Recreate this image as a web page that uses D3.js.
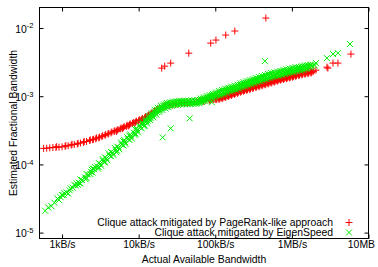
<!DOCTYPE html>
<html>
<head>
<meta charset="utf-8">
<script src="https://cdn.jsdelivr.net/npm/d3@7"></script>
<style>
body{margin:0;background:#fff}
svg{display:block;font-family:"Liberation Sans",Arial,Helvetica,sans-serif}
</style>
</head>
<body>
<svg id="chart" width="378" height="267"></svg>
<script>
// axes
const xTicks = [1e3, 1e4, 1e5, 1e6, 1e7];
const xTickLabels = ['1kB/s', '10kB/s', '100kB/s', '1MB/s', '10MB'];
const yTicks = [1e-5, 1e-4, 1e-3, 1e-2];
const xTitle = 'Actual Available Bandwidth';
const yTitle = 'Estimated Fractional Bandwidth';
const seriesNames = ['Clique attack mitigated by PageRank-like approach', 'Clique attack mitigated by EigenSpeed'];

// [actual bandwidth B/s, estimated fraction]
const pagerankBand = [[575,1.72e-4],[631,1.73e-4],[692,1.75e-4],[759,1.77e-4],[832,1.78e-4],[850,1.82e-4],[912,1.79e-4],[1000,1.81e-4],[1096,1.85e-4],[1120,1.88e-4],[1202,1.88e-4],[1318,1.92e-4],[1350,1.97e-4],[1445,1.96e-4],[1585,2.00e-4],[1620,2.04e-4],[1738,2.06e-4],[1905,2.11e-4],[1950,2.16e-4],[2089,2.17e-4],[2291,2.24e-4],[2340,2.29e-4],[2512,2.30e-4],[2570,2.34e-4],[2754,2.37e-4],[2820,2.45e-4],[3020,2.45e-4],[3090,2.51e-4],[3311,2.56e-4],[3390,2.63e-4],[3631,2.67e-4],[3720,2.75e-4],[3981,2.79e-4],[4070,2.85e-4],[4365,2.90e-4],[4470,2.99e-4],[4786,3.03e-4],[4900,3.13e-4],[5248,3.16e-4],[5370,3.24e-4],[5130,3.05e-4],[5754,3.31e-4],[5890,3.43e-4],[6310,3.47e-4],[6460,3.59e-4],[6170,3.35e-4],[6918,3.63e-4],[7080,3.76e-4],[7586,3.80e-4],[7760,3.94e-4],[7410,3.67e-4],[8318,3.98e-4],[8510,4.12e-4],[9120,4.17e-4],[9330,4.32e-4],[8910,4.03e-4],[1.0e4,4.37e-4],[1.02e4,4.52e-4],[1.096e4,4.57e-4],[1.12e4,4.73e-4],[1.07e4,4.42e-4],[1.202e4,4.84e-4],[1.23e4,5.01e-4],[1.318e4,5.13e-4],[1.35e4,5.31e-4],[1.29e4,4.95e-4],[1.445e4,5.50e-4],[1.48e4,5.69e-4],[1.585e4,5.89e-4],[1.62e4,6.10e-4],[1.738e4,6.31e-4],[1.78e4,6.53e-4],[1.905e4,6.61e-4],[2.089e4,6.92e-4],[2.14e4,7.16e-4],[2.291e4,7.16e-4],[2.512e4,7.24e-4],[2.754e4,7.41e-4],[3.020e4,7.59e-4],[3.311e4,7.71e-4],[3.631e4,7.80e-4],[3.981e4,7.94e-4],[4.365e4,8.04e-4],[4.786e4,8.17e-4],[5.248e4,8.32e-4],[5.754e4,8.45e-4],[6.310e4,8.59e-4],[6.918e4,8.71e-4],[7.08e4,8.41e-4],[7.586e4,8.81e-4],[8.318e4,8.95e-4],[8.51e4,8.61e-4],[9.120e4,9.08e-4],[1.0e5,9.20e-4],[1.02e5,8.91e-4],[1.096e5,9.33e-4],[1.12e5,9.02e-4],[1.202e5,9.55e-4],[1.23e5,9.23e-4],[1.18e5,9.89e-4],[1.318e5,9.89e-4],[1.35e5,9.55e-4],[1.445e5,1.023e-3],[1.48e5,9.89e-4],[1.41e5,1.059e-3],[1.585e5,1.062e-3],[1.62e5,1.023e-3],[1.738e5,1.10e-3],[1.78e5,1.064e-3],[1.70e5,1.14e-3],[1.905e5,1.143e-3],[1.95e5,1.104e-3],[2.089e5,1.186e-3],[2.14e5,1.146e-3],[2.04e5,1.227e-3],[2.291e5,1.225e-3],[2.34e5,1.183e-3],[2.512e5,1.262e-3],[2.57e5,1.219e-3],[2.45e5,1.306e-3],[2.754e5,1.303e-3],[2.82e5,1.259e-3],[3.020e5,1.343e-3],[3.09e5,1.297e-3],[2.95e5,1.390e-3],[3.311e5,1.387e-3],[3.39e5,1.340e-3],[3.631e5,1.429e-3],[3.72e5,1.380e-3],[3.55e5,1.479e-3],[3.981e5,1.472e-3],[4.07e5,1.422e-3],[4.365e5,1.521e-3],[4.47e5,1.469e-3],[4.27e5,1.574e-3],[4.786e5,1.570e-3],[4.90e5,1.517e-3],[5.248e5,1.618e-3],[5.37e5,1.563e-3],[5.13e5,1.675e-3],[5.754e5,1.671e-3],[5.89e5,1.614e-3],[6.310e5,1.722e-3],[6.46e5,1.663e-3],[6.17e5,1.782e-3],[6.918e5,1.778e-3],[7.08e5,1.718e-3],[7.586e5,1.824e-3],[7.76e5,1.762e-3],[7.41e5,1.888e-3],[8.318e5,1.871e-3],[8.51e5,1.807e-3],[9.120e5,1.923e-3],[9.33e5,1.858e-3],[8.91e5,1.991e-3],[1.0e6,1.972e-3],[1.02e6,1.905e-3],[1.096e6,2.028e-3],[1.12e6,1.959e-3],[1.07e6,2.099e-3],[1.202e6,2.080e-3],[1.23e6,2.009e-3],[1.318e6,2.133e-3],[1.35e6,2.061e-3],[1.29e6,2.208e-3],[1.445e6,2.178e-3],[1.48e6,2.104e-3],[1.585e6,2.223e-3],[1.62e6,2.148e-3],[1.738e6,2.270e-3],[1.78e6,2.193e-3],[1.905e6,2.312e-3]];
const pagerankBandFill = [[8.710e4,9.20e-4],[8.710e4,8.79e-4],[9.550e4,9.33e-4],[9.550e4,8.91e-4],[1.047e5,9.46e-4],[1.047e5,9.04e-4],[1.148e5,9.59e-4],[1.148e5,9.16e-4],[1.259e5,9.93e-4],[1.259e5,9.48e-4],[1.380e5,1.030e-3],[1.380e5,9.84e-4],[1.514e5,1.067e-3],[1.514e5,1.019e-3],[1.660e5,1.107e-3],[1.660e5,1.057e-3],[1.820e5,1.148e-3],[1.820e5,1.096e-3],[1.995e5,1.191e-3],[1.995e5,1.138e-3],[2.188e5,1.233e-3],[2.188e5,1.178e-3],[2.399e5,1.271e-3],[2.399e5,1.213e-3],[2.630e5,1.312e-3],[2.630e5,1.253e-3],[2.884e5,1.352e-3],[2.884e5,1.291e-3],[3.162e5,1.396e-3],[3.162e5,1.334e-3],[3.467e5,1.439e-3],[3.467e5,1.374e-3],[3.802e5,1.486e-3],[3.802e5,1.419e-3],[4.169e5,1.531e-3],[4.169e5,1.462e-3],[4.571e5,1.581e-3],[4.571e5,1.510e-3],[5.012e5,1.629e-3],[5.012e5,1.556e-3],[5.495e5,1.683e-3],[5.495e5,1.607e-3],[6.026e5,1.734e-3],[6.026e5,1.656e-3],[6.607e5,1.786e-3],[6.607e5,1.706e-3],[7.244e5,1.841e-3],[7.244e5,1.758e-3],[7.943e5,1.892e-3],[7.943e5,1.807e-3],[8.710e5,1.941e-3],[8.710e5,1.854e-3],[9.550e5,1.995e-3],[9.550e5,1.905e-3],[1.047e6,2.046e-3],[1.047e6,1.954e-3],[1.148e6,2.099e-3],[1.148e6,2.004e-3],[1.259e6,2.153e-3],[1.259e6,2.056e-3],[1.380e6,2.203e-3],[1.380e6,2.104e-3],[1.514e6,2.249e-3],[1.514e6,2.148e-3],[1.660e6,2.296e-3],[1.660e6,2.193e-3],[1.820e6,2.344e-3],[1.820e6,2.239e-3]];
const pagerankOutliers = [[2.0e4,2.58e-3],[2.19e4,2.76e-3],[2.62e4,3.06e-3],[4.51e4,4.28e-3],[8.73e4,6.01e-3],[1.02e5,6.66e-3],[1.37e5,7.89e-3],[1.80e5,9.04e-3],[4.57e5,1.40e-2],[2.06e6,2.41e-3],[2.87e6,2.67e-3],[2.95e6,2.58e-3],[3.44e6,3.06e-3],[3.99e6,3.06e-3],[5.90e6,4.15e-3]];

const eigenBand = [[603,2.09e-5],[661,2.34e-5],[724,2.45e-5],[794,2.75e-5],[871,3.16e-5],[912,3.02e-5],[955,3.31e-5],[1047,3.55e-5],[1070,3.80e-5],[1148,3.89e-5],[1259,4.17e-5],[1290,4.47e-5],[1380,4.57e-5],[1514,4.90e-5],[1550,5.25e-5],[1660,5.37e-5],[1620,5.01e-5],[1820,5.89e-5],[1995,6.46e-5],[2040,6.03e-5],[2188,7.08e-5],[2399,7.76e-5],[2450,8.32e-5],[2340,7.24e-5],[2630,8.51e-5],[2690,9.12e-5],[2884,9.33e-5],[2950,8.71e-5],[3162,1.02e-4],[3240,9.55e-5],[3467,1.12e-4],[3550,1.07e-4],[3390,1.20e-4],[3802,1.23e-4],[3890,1.15e-4],[4169,1.35e-4],[4070,1.45e-4],[4571,1.48e-4],[4680,1.38e-4],[5012,1.62e-4],[4900,1.74e-4],[5130,1.51e-4],[5495,1.78e-4],[5620,1.66e-4],[6026,1.95e-4],[5890,2.09e-4],[6607,2.14e-4],[6760,2.00e-4],[6460,2.29e-4],[7244,2.34e-4],[7080,2.51e-4],[7943,2.57e-4],[8130,2.40e-4],[7760,2.75e-4],[8710,2.88e-4],[8910,2.69e-4],[9550,3.16e-4],[9330,3.39e-4],[9770,2.95e-4],[1.047e4,3.47e-4],[1.02e4,3.72e-4],[1.148e4,3.89e-4],[1.175e4,3.63e-4],[1.12e4,4.17e-4],[1.259e4,4.27e-4],[1.23e4,4.57e-4],[1.29e4,3.98e-4],[1.380e4,4.79e-4],[1.35e4,5.13e-4],[1.41e4,4.47e-4],[1.514e4,5.25e-4],[1.48e4,5.62e-4],[1.55e4,4.90e-4],[1.660e4,5.80e-4],[1.62e4,6.31e-4],[1.70e4,5.37e-4],[1.820e4,6.31e-4],[1.78e4,6.76e-4],[1.86e4,5.89e-4],[1.995e4,6.76e-4],[1.95e4,7.24e-4],[2.04e4,6.31e-4],[2.188e4,7.16e-4],[2.14e4,7.59e-4],[2.24e4,6.61e-4],[2.399e4,7.50e-4],[2.34e4,7.94e-4],[2.45e4,6.92e-4],[2.630e4,7.67e-4],[2.57e4,8.13e-4],[2.69e4,7.24e-4],[2.884e4,7.85e-4],[2.82e4,8.32e-4],[2.95e4,7.41e-4],[3.162e4,7.94e-4],[3.09e4,8.41e-4],[3.24e4,7.50e-4],[3.467e4,8.04e-4],[3.39e4,8.51e-4],[3.55e4,7.59e-4],[3.802e4,8.07e-4],[3.72e4,8.55e-4],[3.89e4,7.62e-4],[4.169e4,8.13e-4],[4.07e4,8.61e-4],[4.27e4,7.67e-4],[4.571e4,8.13e-4],[4.47e4,8.59e-4],[4.68e4,7.69e-4],[5.012e4,8.17e-4],[4.90e4,8.65e-4],[5.13e4,7.76e-4],[5.495e4,8.18e-4],[5.37e4,8.71e-4],[5.62e4,7.76e-4],[6.026e4,8.32e-4],[5.89e4,8.81e-4],[6.17e4,7.85e-4],[6.607e4,8.71e-4],[6.46e4,9.23e-4],[6.76e4,8.22e-4],[7.244e4,9.02e-4],[7.08e4,9.55e-4],[7.41e4,8.51e-4],[7.943e4,9.44e-4],[7.76e4,1.0e-3],[8.13e4,8.91e-4],[8.710e4,9.77e-4],[8.51e4,1.035e-3],[8.91e4,9.23e-4],[9.550e4,1.023e-3],[9.33e4,1.084e-3],[9.77e4,9.66e-4],[1.047e5,1.072e-3],[1.02e5,1.135e-3],[1.07e5,1.012e-3],[1.148e5,1.109e-3],[1.12e5,1.189e-3],[1.175e5,1.035e-3],[1.259e5,1.148e-3],[1.23e5,1.230e-3],[1.29e5,1.072e-3],[1.380e5,1.202e-3],[1.35e5,1.288e-3],[1.41e5,1.122e-3],[1.514e5,1.259e-3],[1.48e5,1.334e-3],[1.55e5,1.175e-3],[1.660e5,1.288e-3],[1.62e5,1.380e-3],[1.70e5,1.202e-3],[1.820e5,1.334e-3],[1.78e5,1.429e-3],[1.86e5,1.245e-3],[1.995e5,1.380e-3],[1.95e5,1.479e-3],[2.04e5,1.288e-3],[2.188e5,1.445e-3],[2.14e5,1.549e-3],[2.24e5,1.349e-3],[2.399e5,1.496e-3],[2.34e5,1.603e-3],[2.45e5,1.396e-3],[2.630e5,1.549e-3],[2.57e5,1.660e-3],[2.69e5,1.445e-3],[2.884e5,1.603e-3],[2.82e5,1.718e-3],[2.95e5,1.496e-3],[3.162e5,1.660e-3],[3.09e5,1.778e-3],[3.24e5,1.549e-3],[3.467e5,1.718e-3],[3.39e5,1.841e-3],[3.55e5,1.603e-3],[3.802e5,1.778e-3],[3.72e5,1.905e-3],[3.89e5,1.660e-3],[4.169e5,1.841e-3],[4.07e5,1.972e-3],[4.27e5,1.718e-3],[4.571e5,1.905e-3],[4.47e5,2.042e-3],[4.68e5,1.778e-3],[5.012e5,1.972e-3],[4.90e5,2.113e-3],[5.13e5,1.841e-3],[5.495e5,2.042e-3],[5.37e5,2.188e-3],[5.62e5,1.905e-3],[6.026e5,2.089e-3],[5.89e5,2.239e-3],[6.17e5,1.950e-3],[6.607e5,2.138e-3],[6.46e5,2.291e-3],[6.76e5,1.995e-3],[7.244e5,2.188e-3],[7.08e5,2.344e-3],[7.41e5,2.042e-3],[7.943e5,2.265e-3],[7.76e5,2.427e-3],[8.13e5,2.113e-3],[8.710e5,2.317e-3],[8.51e5,2.483e-3],[8.91e5,2.163e-3],[9.550e5,2.371e-3],[9.33e5,2.541e-3],[9.77e5,2.213e-3],[1.047e6,2.427e-3],[1.02e6,2.600e-3],[1.07e6,2.265e-3],[1.148e6,2.483e-3],[1.12e6,2.661e-3],[1.175e6,2.317e-3],[1.259e6,2.541e-3],[1.23e6,2.692e-3],[1.29e6,2.371e-3],[1.380e6,2.600e-3],[1.35e6,2.754e-3],[1.41e6,2.427e-3],[1.514e6,2.661e-3],[1.48e6,2.818e-3],[1.55e6,2.512e-3],[1.660e6,2.723e-3],[1.62e6,2.851e-3],[1.820e6,2.786e-3],[1.78e6,2.917e-3],[1.995e6,2.818e-3]];
const eigenBandFill = [[1000,3.55e-5],[1202,3.72e-5],[1445,5.01e-5],[1738,5.25e-5],[1738,6.03e-5],[2089,7.24e-5],[2089,6.31e-5],[2512,8.71e-5],[2512,7.59e-5],[3020,1.047e-4],[3020,9.12e-5],[3631,1.259e-4],[3631,1.096e-4],[4365,1.514e-4],[4365,1.318e-4],[5248,1.820e-4],[5248,1.585e-4],[6310,2.188e-4],[6310,1.905e-4],[7586,2.630e-4],[7586,2.291e-4],[9120,3.236e-4],[9120,2.818e-4],[1.096e4,3.89e-4],[1.096e4,3.39e-4],[1.202e4,4.27e-4],[1.202e4,3.72e-4],[1.318e4,4.68e-4],[1.318e4,4.37e-4],[1.445e4,5.19e-4],[1.445e4,4.84e-4],[1.585e4,5.75e-4],[1.585e4,5.37e-4],[1.738e4,6.31e-4],[1.738e4,5.89e-4],[1.905e4,6.76e-4],[1.905e4,6.31e-4],[2.089e4,7.24e-4],[2.089e4,6.76e-4],[2.291e4,7.59e-4],[2.291e4,7.08e-4],[2.512e4,7.85e-4],[2.512e4,7.33e-4],[2.754e4,8.04e-4],[2.754e4,7.50e-4],[3.020e4,8.18e-4],[3.020e4,7.64e-4],[3.311e4,8.28e-4],[3.311e4,7.73e-4],[3.631e4,8.34e-4],[3.631e4,7.78e-4],[3.981e4,8.39e-4],[3.981e4,7.83e-4],[4.365e4,8.41e-4],[4.365e4,7.85e-4],[4.786e4,8.43e-4],[4.786e4,7.87e-4],[5.248e4,8.45e-4],[5.248e4,7.89e-4],[5.754e4,8.53e-4],[5.754e4,7.96e-4],[6.310e4,8.81e-4],[6.310e4,8.22e-4],[6.918e4,9.16e-4],[6.918e4,8.55e-4],[7.586e4,9.55e-4],[7.586e4,8.91e-4],[8.318e4,9.93e-4],[8.318e4,9.27e-4],[9.120e4,1.035e-3],[9.120e4,9.66e-4],[1.0e5,1.084e-3],[1.0e5,1.012e-3],[1.096e5,1.130e-3],[1.096e5,1.054e-3],[1.202e5,1.169e-3],[1.202e5,1.091e-3],[1.318e5,1.216e-3],[1.318e5,1.135e-3],[1.445e5,1.274e-3],[1.445e5,1.189e-3],[1.585e5,1.318e-3],[1.585e5,1.230e-3],[1.738e5,1.358e-3],[1.738e5,1.268e-3],[1.905e5,1.406e-3],[1.905e5,1.312e-3],[2.089e5,1.462e-3],[2.089e5,1.365e-3],[2.291e5,1.524e-3],[2.291e5,1.422e-3],[2.512e5,1.578e-3],[2.512e5,1.472e-3],[2.754e5,1.633e-3],[2.754e5,1.524e-3],[3.020e5,1.690e-3],[3.020e5,1.578e-3],[3.311e5,1.750e-3],[3.311e5,1.633e-3],[3.631e5,1.811e-3],[3.631e5,1.690e-3],[3.981e5,1.875e-3],[3.981e5,1.750e-3],[4.365e5,1.941e-3],[4.365e5,1.811e-3],[4.786e5,2.009e-3],[4.786e5,1.875e-3],[5.248e5,2.080e-3],[5.248e5,1.941e-3],[5.754e5,2.138e-3],[5.754e5,1.995e-3],[6.310e5,2.188e-3],[6.310e5,2.042e-3],[6.918e5,2.239e-3],[6.918e5,2.089e-3],[7.586e5,2.307e-3],[7.586e5,2.153e-3],[8.318e5,2.371e-3],[8.318e5,2.213e-3],[9.120e5,2.427e-3],[9.120e5,2.265e-3],[1.0e6,2.483e-3],[1.0e6,2.317e-3],[1.096e6,2.541e-3],[1.096e6,2.371e-3],[1.202e6,2.600e-3],[1.202e6,2.427e-3],[1.318e6,2.661e-3],[1.318e6,2.483e-3],[1.445e6,2.723e-3],[1.445e6,2.541e-3],[1.585e6,2.786e-3],[1.585e6,2.600e-3],[1.738e6,2.851e-3],[1.738e6,2.661e-3]];
const eigenOutliers = [[2.06e4,2.49e-4],[2.62e4,3.38e-4],[4.64e4,4.74e-4],[8.99e4,8.17e-4],[4.44e5,3.27e-3],[2.06e6,3.06e-3],[2.87e6,3.62e-3],[3.44e6,4.15e-3],[3.99e6,4.28e-3],[5.73e6,5.82e-3]];

var largeur = 378, hauteur = 267;
var marge = {haut: 7.5, droite: 9.5, bas: 28.5, gauche: 39.5};
var rouge = '#ff0000', vert = '#00ee00';

var svg = d3.select('#chart');

var x = d3.scaleLog().domain([508, 1e7]).range([marge.gauche, largeur - marge.droite]);
var y = d3.scaleLog().domain([8.2e-6, 2e-2]).range([hauteur - marge.bas, marge.haut]);

// gnuplot style markers
var plus = 'M-3.5,0H3.5M0,-3.5V3.5';
var croix = 'M-3,-3L3,3M-3,3L3,-3';

function dessinerPoints(data, forme, couleur) {
    svg.append('g')
        .selectAll('path')
        .data(data)
        .enter()
        .append('path')
        .attr('transform', d => `translate(${x(d[0])},${y(d[1])})`)
        .attr('d', forme)
        .attr('fill', 'none')
        .attr('stroke', couleur)
        .attr('stroke-width', 1);
}

dessinerPoints(pagerankBand.concat(pagerankBandFill, pagerankOutliers), plus, rouge);
dessinerPoints(eigenBand.concat(eigenBandFill, eigenOutliers), croix, vert);

// axes, ticks inward on all four sides
var basAxe = svg.append('g')
    .attr('transform', `translate(0,${hauteur - marge.bas})`)
    .call(d3.axisBottom(x).tickValues(xTicks).tickSize(-4).tickPadding(2)
        .tickFormat((d, i) => xTickLabels[i]));
var hautAxe = svg.append('g')
    .attr('transform', `translate(0,${marge.haut})`)
    .call(d3.axisTop(x).tickValues(xTicks).tickSize(-4).tickFormat(''));
var gaucheAxe = svg.append('g')
    .attr('transform', `translate(${marge.gauche},0)`)
    .call(d3.axisLeft(y).tickValues(yTicks).tickSize(-4).tickPadding(6).tickFormat(''));
var droiteAxe = svg.append('g')
    .attr('transform', `translate(${largeur - marge.droite},0)`)
    .call(d3.axisRight(y).tickValues(yTicks).tickSize(-4).tickFormat(''));

[basAxe, hautAxe, gaucheAxe, droiteAxe].forEach(a => {
    a.select('.domain').remove();
    a.attr('color', '#000');
});
basAxe.selectAll('text').attr('font-size', '10.4px').attr('font-family', null);
// last label would run off the right edge
basAxe.selectAll('.tick text').filter(d => d === 1e7)
    .attr('text-anchor', 'end')
    .attr('x', 374.5 - x(1e7));

// powers of ten on the y axis
gaucheAxe.selectAll('.tick text')
    .attr('font-size', '10.4px')
    .attr('font-family', null)
    .attr('dy', '0.4em')
    .each(function(d) {
        var t = d3.select(this);
        t.append('tspan').text('10');
        t.append('tspan').attr('dy', '-4.3').attr('font-size', '7.6px').text(Math.round(Math.log10(d)));
    });

svg.append('rect')
    .attr('x', marge.gauche).attr('y', marge.haut)
    .attr('width', largeur - marge.droite - marge.gauche)
    .attr('height', hauteur - marge.bas - marge.haut)
    .attr('fill', 'none').attr('stroke', '#000').attr('stroke-width', 1);

// titles
svg.append('text')
    .attr('x', (marge.gauche + largeur - marge.droite) / 2).attr('y', 263)
    .attr('text-anchor', 'middle').attr('font-size', '10.4px')
    .text(xTitle);
svg.append('text')
    .attr('transform', `translate(16.5,${(marge.haut + hauteur - marge.bas) / 2}) rotate(-90)`)
    .attr('text-anchor', 'middle').attr('font-size', '10.4px')
    .text(yTitle);

// legend
var legende = svg.append('g');
[plus, croix].forEach((forme, i) => {
    var ly = 222.5 + i * 10;
    legende.append('text')
        .attr('x', 333).attr('y', ly + 3)
        .attr('text-anchor', 'end').attr('font-size', '10.4px')
        .text(seriesNames[i]);
    legende.append('path')
        .attr('transform', `translate(349,${ly})`)
        .attr('d', forme).attr('fill', 'none')
        .attr('stroke', i === 0 ? rouge : vert);
});
</script>
</body>
</html>
